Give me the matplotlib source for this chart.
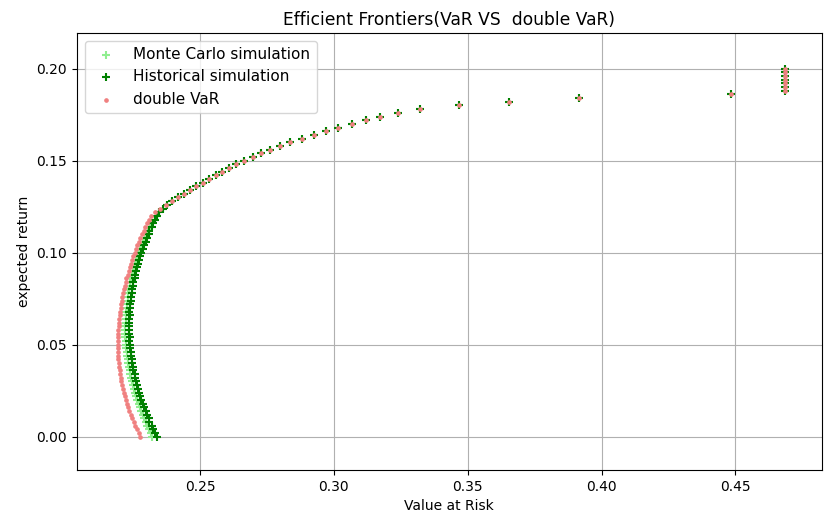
import numpy as np
import matplotlib
matplotlib.use("Agg")
from matplotlib import pyplot as plt

# target expected returns of the frontier portfolios
returns = [
    0.000, 0.002, 0.004, 0.006, 0.008, 0.010, 0.012, 0.014, 0.016, 0.018,
    0.020, 0.022, 0.024, 0.026, 0.028, 0.030, 0.032, 0.034, 0.036, 0.038,
    0.040, 0.042, 0.044, 0.046, 0.048, 0.050, 0.052, 0.054, 0.056, 0.058,
    0.060, 0.062, 0.064, 0.066, 0.068, 0.070, 0.072, 0.074, 0.076, 0.078,
    0.080, 0.082, 0.084, 0.086, 0.088, 0.090, 0.092, 0.094, 0.096, 0.098,
    0.100, 0.102, 0.104, 0.106, 0.108, 0.110, 0.112, 0.114, 0.116, 0.118,
    0.120, 0.122, 0.124, 0.126, 0.128, 0.130, 0.132, 0.134, 0.136, 0.138,
    0.140, 0.142, 0.144, 0.146, 0.148, 0.150, 0.152, 0.154, 0.156, 0.158,
    0.160, 0.162, 0.164, 0.166, 0.168, 0.170, 0.172, 0.174, 0.176, 0.178,
    0.180, 0.182, 0.184, 0.186, 0.188, 0.190, 0.192, 0.194, 0.196, 0.198,
    0.200,
]

# upper branch, the three methods agree here
var_upper = [
    0.2347, 0.2360, 0.2377, 0.2396, 0.2417, 0.2439, 0.2462, 0.2486, 0.2510,
    0.2534, 0.2558, 0.2583, 0.2609, 0.2636, 0.2665, 0.2697, 0.2729, 0.2762,
    0.2797, 0.2837, 0.2880, 0.2924, 0.2971, 0.3017, 0.3067, 0.3120, 0.3174,
    0.3238, 0.3323, 0.3469, 0.3656, 0.3917, 0.4482, 0.4684, 0.4684, 0.4684,
    0.4684, 0.4684, 0.4684, 0.4684,
]

var_hist = [
    0.2338, 0.2332, 0.2324, 0.2319, 0.2311, 0.2308, 0.2300, 0.2297, 0.2289, 0.2286,
    0.2280, 0.2277, 0.2271, 0.2269, 0.2263, 0.2262, 0.2256, 0.2255, 0.2251, 0.2250,
    0.2245, 0.2245, 0.2241, 0.2242, 0.2238, 0.2239, 0.2236, 0.2237, 0.2234, 0.2236,
    0.2234, 0.2236, 0.2234, 0.2237, 0.2236, 0.2239, 0.2238, 0.2242, 0.2241, 0.2245,
    0.2245, 0.2250, 0.2250, 0.2255, 0.2256, 0.2262, 0.2263, 0.2269, 0.2271, 0.2277,
    0.2280, 0.2286, 0.2289, 0.2297, 0.2300, 0.2308, 0.2311, 0.2319, 0.2324, 0.2332,
    0.2338,
] + var_upper

var_mc = [
    0.2322, 0.2317, 0.2310, 0.2303, 0.2297, 0.2292, 0.2286, 0.2281, 0.2275, 0.2270,
    0.2266, 0.2261, 0.2257, 0.2253, 0.2249, 0.2246, 0.2242, 0.2239, 0.2237, 0.2234,
    0.2231, 0.2229, 0.2227, 0.2226, 0.2224, 0.2223, 0.2222, 0.2221, 0.2220, 0.2220,
    0.2220, 0.2223, 0.2223, 0.2224, 0.2225, 0.2226, 0.2227, 0.2229, 0.2230, 0.2232,
    0.2234, 0.2237, 0.2239, 0.2242, 0.2245, 0.2249, 0.2252, 0.2256, 0.2260, 0.2264,
    0.2269, 0.2276, 0.2281, 0.2288, 0.2294, 0.2301, 0.2307, 0.2314, 0.2321, 0.2331,
    0.2338,
] + var_upper

var_double = [
    0.2276, 0.2270, 0.2263, 0.2257, 0.2252, 0.2246, 0.2241, 0.2236, 0.2231, 0.2227,
    0.2223, 0.2219, 0.2215, 0.2212, 0.2209, 0.2206, 0.2204, 0.2202, 0.2200, 0.2198,
    0.2196, 0.2195, 0.2194, 0.2194, 0.2193, 0.2193, 0.2193, 0.2193, 0.2194, 0.2195,
    0.2196, 0.2197, 0.2198, 0.2199, 0.2201, 0.2203, 0.2205, 0.2207, 0.2210, 0.2213,
    0.2216, 0.2219, 0.2222, 0.2225, 0.2229, 0.2233, 0.2237, 0.2241, 0.2246, 0.2251,
    0.2256, 0.2261, 0.2266, 0.2271, 0.2277, 0.2283, 0.2289, 0.2295, 0.2302, 0.2309,
    0.2316, 0.2330, 0.2350, 0.2373,
] + var_upper[3:]

fig = plt.figure(figsize=(8.24, 5.18), dpi=100)
ax = fig.add_axes([0.0934, 0.0927, 0.9036, 0.8436])

ax.scatter(var_mc, returns, marker="+", color="lightgreen", s=36, label="Monte Carlo simulation")
ax.scatter(var_hist, returns, marker="+", color="green", s=36, label="Historical simulation")
ax.scatter(var_double, returns, marker=".", color="lightcoral", s=22, label="double VaR")

ax.set_xlim(0.2040, 0.4822)
ax.set_ylim(-0.0181, 0.2194)
ax.set_xticks([0.25, 0.30, 0.35, 0.40, 0.45])
ax.set_yticks([0.00, 0.05, 0.10, 0.15, 0.20])
ax.grid(True)
ax.set_axisbelow(True)

ax.set_title("Efficient Frontiers(VaR VS  double VaR)", fontsize=12.3)
ax.set_xlabel("Value at Risk")
ax.set_ylabel("expected return")
ax.legend(loc="upper left", fontsize=11)

fig.savefig("out.png", dpi=100)
